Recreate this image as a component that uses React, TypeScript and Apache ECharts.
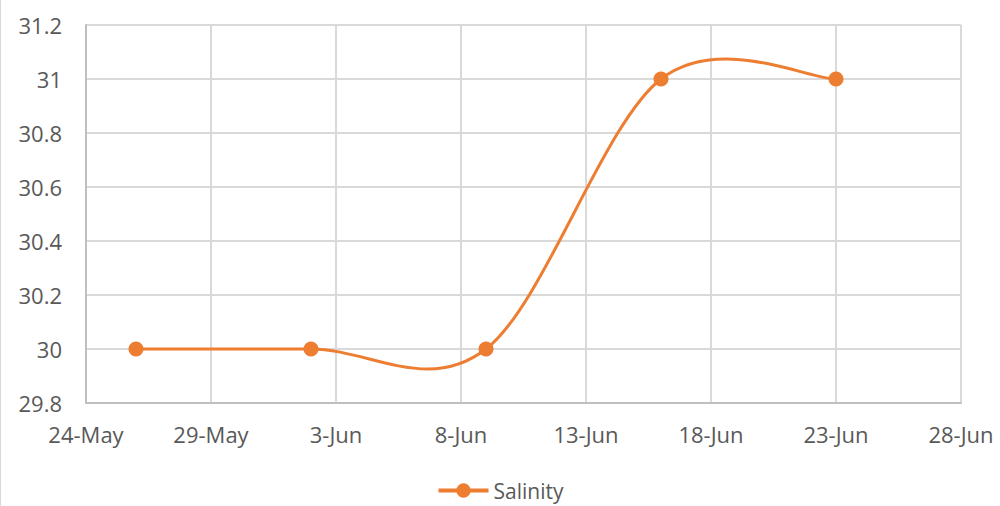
import React, { useEffect, useRef } from "react";
import * as echarts from "echarts";

const START_DATE = "2020-05-24";
const dates = ["2020-05-26", "2020-06-02", "2020-06-09", "2020-06-16", "2020-06-23"];
const salinity = [30, 30, 30, 31, 31];
const seriesName = "Salinity";
const yMin = 29.8;
const yMax = 31.2;
const yInterval = 0.2;
const xMaxDays = 35;
const xIntervalDays = 5;
const monthNames = ["Jan", "Feb", "Mar", "Apr", "May", "Jun", "Jul", "Aug", "Sep", "Oct", "Nov", "Dec"];

const DAY = 86400000;
const startMs = Date.parse(START_DATE + "T00:00:00Z");
const dayOffset = (d: string) => Math.round((Date.parse(d + "T00:00:00Z") - startMs) / DAY);
const dayLabel = (n: number) => {
  const d = new Date(startMs + n * DAY);
  return d.getUTCDate() + "-" + monthNames[d.getUTCMonth()];
};

const COLOR = "#ED7D31";

export default function App() {
  const ref = useRef<HTMLDivElement>(null);
  useEffect(() => {
    if (!ref.current) return;
    const chart = echarts.init(ref.current, null, { renderer: "svg" });
    const font = "Open Sans";
    const textColor = "#595959";
    const points = dates.map((d, i) => [dayOffset(d), salinity[i]]);
    chart.setOption({
      animation: false,
      backgroundColor: "#ffffff",
      textStyle: { fontFamily: font },
      grid: { left: 86, right: 39, top: 25, bottom: 103, containLabel: false },
      xAxis: {
        type: "value",
        min: 0,
        max: xMaxDays,
        interval: xIntervalDays,
        axisLine: { show: true, lineStyle: { color: "#bfbfbf", width: 2 } },
        axisTick: { show: false },
        splitLine: { show: true, lineStyle: { color: "#d9d9d9", width: 2 } },
        axisLabel: {
          color: textColor,
          fontSize: 22,
          fontFamily: font,
          margin: 20,
          formatter: (v: number) => dayLabel(v),
        },
      },
      yAxis: {
        type: "value",
        min: yMin,
        max: yMax,
        interval: yInterval,
        axisLine: { show: true, lineStyle: { color: "#bfbfbf", width: 2 } },
        axisTick: { show: false },
        splitLine: { show: true, lineStyle: { color: "#d9d9d9", width: 2 } },
        axisLabel: {
          color: textColor,
          fontSize: 22,
          fontFamily: font,
          margin: 24,
          formatter: (v: number) => String(Math.round(v * 10) / 10),
        },
      },
      legend: {
        bottom: 0,
        left: "center",
        itemWidth: 50,
        itemHeight: 18,
        itemGap: 8,
        textStyle: { color: textColor, fontSize: 21, fontFamily: font },
        data: [
          {
            name: seriesName,
            itemStyle: { color: COLOR, opacity: 1 },
            lineStyle: { color: COLOR, width: 4, opacity: 1 },
          },
        ],
      },
      graphic: [
        {
          type: "line",
          shape: { x1: 0.5, y1: 0, x2: 0.5, y2: 506 },
          style: { stroke: "#d9d9d9", lineWidth: 1 },
        },
      ],
      series: [
        {
          name: "curve",
          type: "custom",
          z: 2,
          silent: true,
          data: points,
          renderItem: (params: any, api: any) => {
            const i = params.dataIndex;
            const n = points.length;
            if (i >= n - 1) return { type: "group", children: [] };
            const P = points.map((p) => api.coord(p));
            const p0 = P[Math.max(i - 1, 0)];
            const p1 = P[i];
            const p2 = P[i + 1];
            const p3 = P[Math.min(i + 2, n - 1)];
            const k = 1 / 6;
            return {
              type: "bezierCurve",
              shape: {
                x1: p1[0],
                y1: p1[1],
                cpx1: p1[0] + (p2[0] - p0[0]) * k,
                cpy1: p1[1] + (p2[1] - p0[1]) * k,
                cpx2: p2[0] - (p3[0] - p1[0]) * k,
                cpy2: p2[1] - (p3[1] - p1[1]) * k,
                x2: p2[0],
                y2: p2[1],
              },
              style: { stroke: COLOR, lineWidth: 3, fill: null, lineCap: "round" },
            };
          },
        },
        {
          name: seriesName,
          type: "line",
          z: 3,
          symbol: "circle",
          symbolSize: 15,
          itemStyle: { color: COLOR },
          lineStyle: { color: COLOR, width: 0, opacity: 0 },
          data: points,
        },
      ],
    });
    return () => chart.dispose();
  }, []);
  return (
    <div
      ref={ref}
      style={{ position: "fixed", left: 0, top: 0, width: 1000, height: 506 }}
    />
  );
}
